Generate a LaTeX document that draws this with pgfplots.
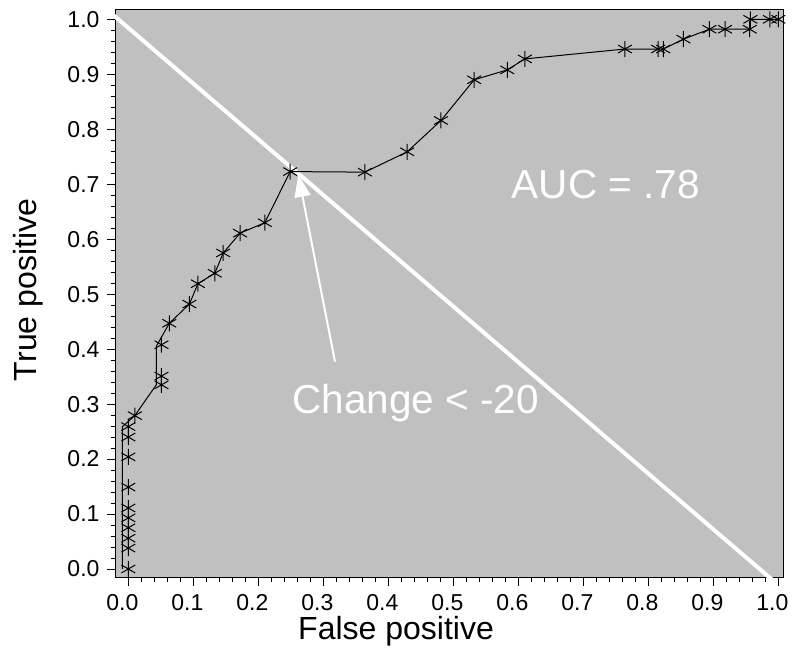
\documentclass[border=0pt]{standalone}
\usepackage{pgfplots}
\pgfplotsset{compat=1.18}
\usepackage{fontspec}
\setmainfont{Liberation Sans}
\usetikzlibrary{arrows.meta}
\definecolor{bg}{RGB}{192,192,192}
\begin{document}
\begin{tikzpicture}[x=1pt,y=1pt]
\useasboundingbox (0,0) rectangle (794,650);
\begin{axis}[
  at={(115pt,72pt)}, anchor=south west,
  scale only axis, width=668pt, height=568pt,
  xmin=-0.0205, xmax=1.0072, ymin=-0.0164, ymax=1.017,
  axis background/.style={fill=bg},
  axis line style={line width=1pt},
  tick align=outside, xtick pos=bottom, ytick pos=left,
  xtick={0,0.1,0.2,0.3,0.4,0.5,0.6,0.7,0.8,0.9,1.0},
  ytick={0,0.1,0.2,0.3,0.4,0.5,0.6,0.7,0.8,0.9,1.0},
  xticklabels={0.0,0.1,0.2,0.3,0.4,0.5,0.6,0.7,0.8,0.9,1.0},
  yticklabels={0.0,0.1,0.2,0.3,0.4,0.5,0.6,0.7,0.8,0.9,1.0},
  minor tick num=4,
  major tick length=8pt, minor tick length=4pt,
  every tick/.style={black, line width=0.8pt},
  xticklabel style={font=\fontsize{23}{27}\selectfont, xshift=-6pt, yshift=-5pt},
  yticklabel style={font=\fontsize{23}{27}\selectfont, xshift=-4pt},
  xlabel={False positive},
  xlabel style={at={(axis description cs:0.4207,0)}, anchor=base, yshift=-61pt, font=\fontsize{32}{38}\selectfont},
  ylabel={True positive},
  ylabel style={at={(axis description cs:-0.130,0.507)}, anchor=center, font=\fontsize{32}{38}\selectfont},
]
% anti-diagonal reference line
\addplot[white, line width=4pt] coordinates {(-0.03,1.0148) (1.0,-0.0292)};
% ROC line
\addplot[black, line width=1pt] coordinates {
(-0.009,0.0) (-0.009,0.259) (0.010,0.279) (0.043,0.335) (0.043,0.405) (0.063,0.447)
(0.094,0.482) (0.107,0.519) (0.133,0.538) (0.146,0.575) (0.172,0.611) (0.210,0.630)
(0.249,0.723) (0.364,0.722) (0.429,0.759) (0.481,0.816) (0.532,0.890) (0.583,0.908)
(0.610,0.928) (0.764,0.946) (0.823,0.946) (0.854,0.964) (0.894,0.982) (0.956,0.982)
(0.957,1.0) (1.0,1.0)};
% ROC points
\addplot[only marks, mark=asterisk, mark size=8pt, black, mark options={line width=1pt}] coordinates {
(0,0) (0,0.038) (0,0.056) (0,0.075) (0,0.093) (0,0.111) (0,0.149) (0,0.204) (0,0.240) (0,0.259)
(0.010,0.279) (0.051,0.335) (0.051,0.351) (0.051,0.408) (0.063,0.447) (0.094,0.482)
(0.107,0.519) (0.133,0.538) (0.146,0.575) (0.172,0.611) (0.210,0.630) (0.249,0.723)
(0.364,0.722) (0.429,0.759) (0.481,0.816) (0.532,0.890) (0.583,0.908) (0.610,0.928)
(0.764,0.946) (0.815,0.946) (0.823,0.946) (0.854,0.964) (0.894,0.982) (0.918,0.982)
(0.956,0.982) (0.957,1.0) (0.987,1.0) (1.0,1.0)};
\draw[white, line width=2pt, -{Triangle[length=22pt,width=16pt]}] (axis cs:0.318,0.377) -- (axis cs:0.2615,0.717);
\node[white, anchor=base, font=\fontsize{40.5}{48}\selectfont] at (axis cs:0.7346,0.6745) {AUC = .78};
\node[white, anchor=base, font=\fontsize{40.5}{48}\selectfont] at (axis cs:0.4423,0.2836) {Change < -20};
\end{axis}
\end{tikzpicture}
\end{document}
